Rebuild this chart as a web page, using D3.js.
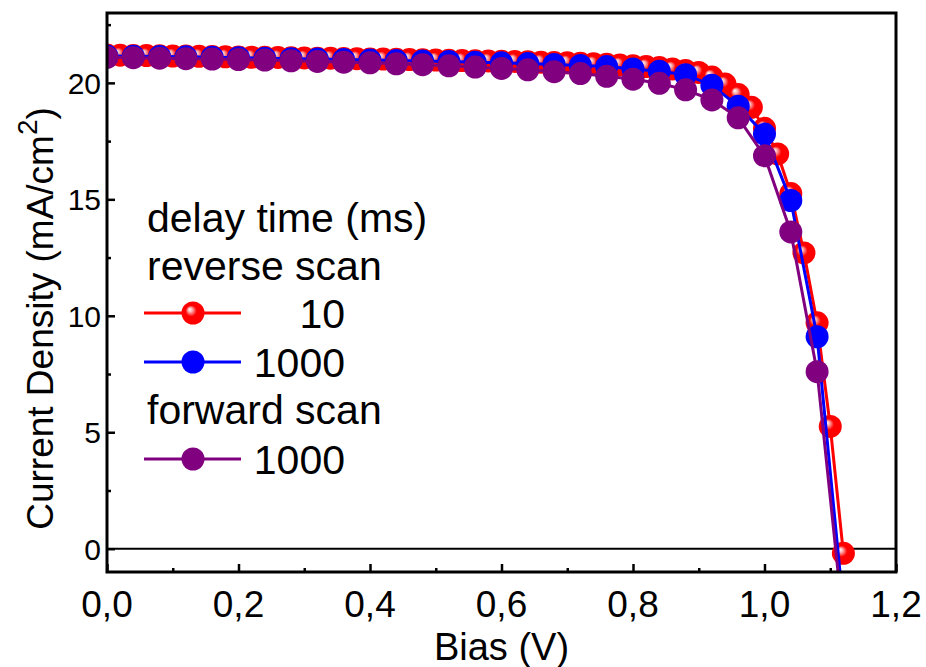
<!DOCTYPE html>
<html>
<head>
<meta charset="utf-8">
<script src="https://cdn.jsdelivr.net/npm/d3@7"></script>
<style>
  body { margin: 0; background: #fff; }
  #plot { width: 926px; height: 667px; }
  text { font-family: "Liberation Sans", Arial, sans-serif; fill: #000; }
</style>
</head>
<body>
<div id="plot"></div>
<script>
// J-V data
// reverse scan 10 ms (0.02 V step)
const biasRev10 = [0.00,0.02,0.04,0.06,0.08,0.10,0.12,0.14,0.16,0.18,0.20,0.22,0.24,0.26,0.28,0.30,0.32,0.34,0.36,0.38,
  0.40,0.42,0.44,0.46,0.48,0.50,0.52,0.54,0.56,0.58,0.60,0.62,0.64,0.66,0.68,0.70,0.72,0.74,0.76,0.78,
  0.80,0.82,0.84,0.86,0.88,0.90,0.92,0.94,0.96,0.98,1.00,1.02,1.04,1.06,1.08,1.10,1.12];
const jRev10 = [21.20,21.19,21.18,21.17,21.16,21.15,21.15,21.14,21.13,21.12,21.11,21.10,21.10,21.09,21.08,21.07,21.06,21.06,21.05,21.04,
  21.03,21.02,21.01,21.00,20.99,20.98,20.97,20.96,20.95,20.94,20.93,20.92,20.91,20.89,20.88,20.86,20.84,20.82,20.80,20.77,
  20.74,20.70,20.66,20.60,20.53,20.45,20.25,19.95,19.50,18.95,18.05,16.95,15.25,12.70,9.70,5.25,-0.20];

// reverse scan 1000 ms and forward scan 1000 ms (0.04 V step)
const bias1000 = [0.00,0.04,0.08,0.12,0.16,0.20,0.24,0.28,0.32,0.36,0.40,0.44,0.48,0.52,0.56,0.60,0.64,0.68,0.72,0.76,
  0.80,0.84,0.88,0.92,0.96,1.00,1.04,1.08,1.12];
const jRev1000 = [21.15,21.14,21.13,21.12,21.10,21.08,21.06,21.04,21.02,21.00,20.98,20.96,20.94,20.92,20.89,20.86,20.83,20.79,20.75,20.70,
  20.60,20.50,20.35,19.90,19.00,17.80,14.95,9.10,-2.50];
const jFwd1000 = [21.10,21.08,21.06,21.04,21.02,21.00,20.98,20.95,20.92,20.89,20.86,20.82,20.78,20.73,20.68,20.62,20.56,20.48,20.40,20.28,
  20.16,19.98,19.70,19.27,18.50,16.87,13.60,7.60,-3.20];

const xTicks = [0, 0.2, 0.4, 0.6, 0.8, 1.0, 1.2];
const yTicks = [0, 5, 10, 15, 20];

const series = [
  {name: "10", color: "#ff0000", x: biasRev10, y: jRev10, sphere: true},
  {name: "1000", color: "#0000ff", x: bias1000, y: jRev1000, sphere: false},
  {name: "1000", color: "#800080", x: bias1000, y: jFwd1000, sphere: false}
];

// set the dimensions and margins of the graph
const margin = {top: 13, right: 30, bottom: 95, left: 107},
    width = 926 - margin.left - margin.right,
    height = 667 - margin.top - margin.bottom;

const svgRoot = d3.select("#plot")
  .append("svg")
    .attr("width", 926)
    .attr("height", 667);

const defs = svgRoot.append("defs");
const grad = defs.append("radialGradient")
    .attr("id", "redSphere")
    .attr("cx", "50%").attr("cy", "50%").attr("r", "50%")
    .attr("fx", "35%").attr("fy", "33%");
grad.append("stop").attr("offset", "0%").attr("stop-color", "#ffffff");
grad.append("stop").attr("offset", "18%").attr("stop-color", "#ffb4b4");
grad.append("stop").attr("offset", "48%").attr("stop-color", "#ff0000");
grad.append("stop").attr("offset", "100%").attr("stop-color", "#ff0000");

defs.append("clipPath").attr("id", "clip")
  .append("rect").attr("x", 0).attr("y", 0).attr("width", width).attr("height", height);

const svg = svgRoot.append("g")
    .attr("transform", "translate(" + margin.left + "," + margin.top + ")");

// scales
const x = d3.scaleLinear().domain([0, 1.2]).range([0, width]);
const y = d3.scaleLinear().domain([-1, 23]).range([height, 0]);

const fmt = d => d3.format(".1f")(d).replace(".", ",");

// zero line
svg.append("line")
    .attr("x1", 0).attr("x2", width)
    .attr("y1", y(0)).attr("y2", y(0))
    .attr("stroke", "#000").attr("stroke-width", 2);

// data
const plotArea = svg.append("g").attr("clip-path", "url(#clip)");
const markR = 11.5;

series.forEach(s => {
  const pts = s.x.map((v, i) => ({x: v, y: s.y[i]}));
  plotArea.append("path")
      .datum(pts)
      .attr("fill", "none")
      .attr("stroke", s.color)
      .attr("stroke-width", 3)
      .attr("d", d3.line().x(d => x(d.x)).y(d => y(d.y)));
  plotArea.append("g")
    .selectAll("circle")
    .data(pts)
    .enter()
    .append("circle")
      .attr("cx", d => x(d.x))
      .attr("cy", d => y(d.y))
      .attr("r", markR)
      .attr("fill", s.sphere ? "url(#redSphere)" : s.color);
});

// axes: ticks inward, labels outside
const xAxis = svg.append("g")
    .attr("transform", "translate(0," + height + ")")
    .call(d3.axisBottom(x).tickValues(d3.range(0, 1.21, 0.1)).tickSize(-8).tickFormat(""));
xAxis.selectAll(".tick line").attr("stroke-width", 2.5)
    .attr("y2", (d, i) => i % 2 === 0 ? -8 : -4);
xAxis.select(".domain").remove();
xAxis.selectAll(".tick text").remove();

svg.append("g").selectAll("text")
  .data(xTicks)
  .enter()
  .append("text")
    .attr("x", d => x(d))
    .attr("y", height + 45)
    .attr("text-anchor", "middle")
    .style("font-size", "37px")
    .text(fmt);

const yAxis = svg.append("g")
    .call(d3.axisLeft(y).tickValues(d3.range(0, 23, 2.5)).tickSize(-8).tickFormat(""));
yAxis.selectAll(".tick line").attr("stroke-width", 2.5)
    .attr("x2", (d, i) => i % 2 === 0 ? 8 : 4);
yAxis.select(".domain").remove();

svg.append("g").selectAll("text")
  .data(yTicks)
  .enter()
  .append("text")
    .attr("x", -6)
    .attr("y", d => y(d) + 11)
    .attr("text-anchor", "end")
    .style("font-size", "30px")
    .text(d => d);

// frame
svg.append("rect")
    .attr("x", 0).attr("y", 0)
    .attr("width", width).attr("height", height)
    .attr("fill", "none")
    .attr("stroke", "#000")
    .attr("stroke-width", 3);

// axis titles
svg.append("text")
    .attr("x", width / 2)
    .attr("y", height + 88)
    .attr("text-anchor", "middle")
    .style("font-size", "38px")
    .text("Bias (V)");

const yTitle = svg.append("text")
    .attr("transform", "translate(" + (-54) + "," + (height / 2 + 26) + ") rotate(-90)")
    .attr("text-anchor", "middle")
    .style("font-size", "37px");
yTitle.append("tspan").text("Current Density (mA/cm");
yTitle.append("tspan").attr("dy", -16).style("font-size", "28px").text("2");
yTitle.append("tspan").attr("dy", 16).text(")");

// legend
const legend = svg.append("g").attr("transform", "translate(40,0)");
const legRows = [
  {type: "text", label: "delay time (ms)", y: 218},
  {type: "text", label: "reverse scan", y: 266},
  {type: "mark", s: series[0], y: 313},
  {type: "mark", s: series[1], y: 362},
  {type: "text", label: "forward scan", y: 410},
  {type: "mark", s: series[2], y: 459}
];
legRows.forEach(r => {
  const cy = r.y - margin.top;
  if (r.type === "text") {
    legend.append("text")
        .attr("x", 0)
        .attr("y", cy + 14)
        .style("font-size", "41px")
        .text(r.label);
  } else {
    legend.append("line")
        .attr("x1", -3).attr("x2", 94)
        .attr("y1", cy).attr("y2", cy)
        .attr("stroke", r.s.color).attr("stroke-width", 3);
    legend.append("circle")
        .attr("cx", 46).attr("cy", cy).attr("r", markR)
        .attr("fill", r.s.sphere ? "url(#redSphere)" : r.s.color);
    legend.append("text")
        .attr("x", 198)
        .attr("y", cy + 15)
        .attr("text-anchor", "end")
        .style("font-size", "41px")
        .text(r.s.name);
  }
});
</script>
</body>
</html>
